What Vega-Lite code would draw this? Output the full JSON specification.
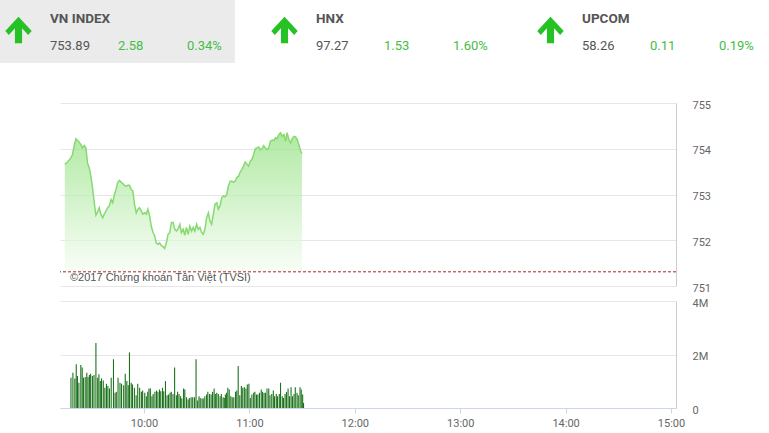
{
  "$schema": "https://vega.github.io/schema/vega-lite/v6.json",
  "padding": 0,
  "background": "white",
  "config": {
    "view": {"stroke": null},
    "font": "Roboto",
    "axis": {"labelFont": "Roboto", "labelFontSize": 11, "labelColor": "#666666"}
  },
  "datasets": {
    "indices": [
      {"index": "VN INDEX", "col": 0, "last": 753.89, "chg": 2.58, "pct": 0.0034},
      {"index": "HNX", "col": 1, "last": 97.27, "chg": 1.53, "pct": 0.016},
      {"index": "UPCOM", "col": 2, "last": 58.26, "chg": 0.11, "pct": 0.0019}
    ],
    "prevClose": [{"p": 751.31}],
    "credit": [{"t": 560.6, "p": 751.17, "label": "©2017 Chứng khoán Tân Việt (TVSI)"}],
    "price": [
      {"t": 557.7, "p": 753.66}, {"t": 559.2, "p": 753.71}, {"t": 561.1, "p": 753.80}, {"t": 562.0, "p": 753.87},
      {"t": 562.9, "p": 754.06}, {"t": 563.9, "p": 754.22}, {"t": 565.4, "p": 754.16}, {"t": 566.7, "p": 754.09},
      {"t": 567.6, "p": 754.02}, {"t": 568.6, "p": 754.07}, {"t": 569.5, "p": 754.02}, {"t": 570.4, "p": 753.69},
      {"t": 571.4, "p": 753.58}, {"t": 572.3, "p": 753.40}, {"t": 573.2, "p": 753.15}, {"t": 574.2, "p": 752.82},
      {"t": 575.1, "p": 752.55}, {"t": 576.1, "p": 752.62}, {"t": 577.0, "p": 752.71}, {"t": 577.9, "p": 752.57},
      {"t": 578.9, "p": 752.49}, {"t": 579.8, "p": 752.57}, {"t": 580.8, "p": 752.64}, {"t": 581.7, "p": 752.71},
      {"t": 582.6, "p": 752.75}, {"t": 583.6, "p": 752.89}, {"t": 584.5, "p": 752.82}, {"t": 585.5, "p": 753.00},
      {"t": 586.4, "p": 753.11}, {"t": 587.3, "p": 753.26}, {"t": 588.3, "p": 753.31}, {"t": 589.2, "p": 753.27},
      {"t": 590.2, "p": 753.24}, {"t": 591.1, "p": 753.20}, {"t": 592.0, "p": 753.18}, {"t": 593.0, "p": 753.20},
      {"t": 593.9, "p": 753.20}, {"t": 594.9, "p": 753.11}, {"t": 595.8, "p": 753.08}, {"t": 596.7, "p": 752.79},
      {"t": 597.7, "p": 752.60}, {"t": 598.6, "p": 752.68}, {"t": 599.5, "p": 752.71}, {"t": 600.5, "p": 752.64},
      {"t": 601.4, "p": 752.57}, {"t": 602.4, "p": 752.60}, {"t": 603.3, "p": 752.57}, {"t": 604.2, "p": 752.68},
      {"t": 605.2, "p": 752.53}, {"t": 606.1, "p": 752.31}, {"t": 607.1, "p": 752.17}, {"t": 608.0, "p": 752.10},
      {"t": 608.9, "p": 751.94}, {"t": 609.9, "p": 751.91}, {"t": 610.8, "p": 751.94}, {"t": 611.8, "p": 751.88},
      {"t": 612.7, "p": 751.86}, {"t": 613.6, "p": 751.82}, {"t": 614.6, "p": 751.95}, {"t": 615.5, "p": 752.13},
      {"t": 616.5, "p": 752.17}, {"t": 617.4, "p": 752.39}, {"t": 618.3, "p": 752.39}, {"t": 619.3, "p": 752.24},
      {"t": 620.2, "p": 752.20}, {"t": 621.2, "p": 752.25}, {"t": 622.1, "p": 752.35}, {"t": 623.0, "p": 752.17},
      {"t": 624.0, "p": 752.24}, {"t": 624.9, "p": 752.11}, {"t": 625.8, "p": 752.28}, {"t": 626.8, "p": 752.13},
      {"t": 627.7, "p": 752.31}, {"t": 628.7, "p": 752.20}, {"t": 629.6, "p": 752.28}, {"t": 630.5, "p": 752.20},
      {"t": 631.5, "p": 752.35}, {"t": 632.4, "p": 752.24}, {"t": 633.4, "p": 752.28}, {"t": 634.3, "p": 752.17},
      {"t": 635.2, "p": 752.13}, {"t": 636.2, "p": 752.24}, {"t": 637.1, "p": 752.49}, {"t": 638.1, "p": 752.60},
      {"t": 639.0, "p": 752.42}, {"t": 639.9, "p": 752.35}, {"t": 640.9, "p": 752.57}, {"t": 641.8, "p": 752.79},
      {"t": 642.8, "p": 752.82}, {"t": 643.7, "p": 752.68}, {"t": 644.6, "p": 752.75}, {"t": 645.6, "p": 752.93},
      {"t": 646.5, "p": 752.97}, {"t": 647.5, "p": 752.95}, {"t": 648.4, "p": 753.00}, {"t": 649.3, "p": 753.18},
      {"t": 650.3, "p": 753.29}, {"t": 651.2, "p": 753.29}, {"t": 652.2, "p": 753.27}, {"t": 653.1, "p": 753.29},
      {"t": 654.0, "p": 753.37}, {"t": 655.0, "p": 753.40}, {"t": 655.9, "p": 753.49}, {"t": 656.9, "p": 753.55},
      {"t": 657.8, "p": 753.62}, {"t": 658.7, "p": 753.71}, {"t": 659.7, "p": 753.66}, {"t": 660.6, "p": 753.62},
      {"t": 661.6, "p": 753.73}, {"t": 662.5, "p": 753.77}, {"t": 663.4, "p": 753.87}, {"t": 664.4, "p": 754.00},
      {"t": 665.3, "p": 754.02}, {"t": 666.3, "p": 754.04}, {"t": 667.2, "p": 753.98}, {"t": 668.1, "p": 754.00},
      {"t": 669.1, "p": 754.07}, {"t": 670.0, "p": 754.02}, {"t": 671.0, "p": 753.98}, {"t": 671.9, "p": 754.02},
      {"t": 672.8, "p": 754.16}, {"t": 673.8, "p": 754.19}, {"t": 674.7, "p": 754.18}, {"t": 675.7, "p": 754.24},
      {"t": 676.6, "p": 754.22}, {"t": 677.5, "p": 754.31}, {"t": 678.5, "p": 754.35}, {"t": 679.4, "p": 754.27},
      {"t": 680.4, "p": 754.31}, {"t": 681.3, "p": 754.16}, {"t": 682.2, "p": 754.35}, {"t": 683.2, "p": 754.20},
      {"t": 684.1, "p": 754.13}, {"t": 685.1, "p": 754.22}, {"t": 686.0, "p": 754.27}, {"t": 686.9, "p": 754.26},
      {"t": 687.9, "p": 754.20}, {"t": 688.8, "p": 754.09}, {"t": 689.8, "p": 753.95}, {"t": 690.5, "p": 753.89}
    ],
    "volume": [
      {"t": 558.4, "vol": 1132000}, {"t": 559.5, "vol": 1321000}, {"t": 560.6, "vol": 1107000}, {"t": 561.4, "vol": 1635000},
      {"t": 562.1, "vol": 1195000}, {"t": 562.9, "vol": 944000}, {"t": 564.0, "vol": 1610000}, {"t": 564.8, "vol": 1510000},
      {"t": 565.5, "vol": 1132000}, {"t": 566.5, "vol": 1157000}, {"t": 567.4, "vol": 1321000}, {"t": 568.1, "vol": 1157000},
      {"t": 568.9, "vol": 1233000}, {"t": 569.6, "vol": 1283000}, {"t": 570.6, "vol": 1195000}, {"t": 571.5, "vol": 1233000},
      {"t": 572.6, "vol": 2428000}, {"t": 573.6, "vol": 1132000}, {"t": 574.3, "vol": 1258000}, {"t": 575.1, "vol": 1006000},
      {"t": 575.8, "vol": 1107000}, {"t": 576.8, "vol": 1032000}, {"t": 577.7, "vol": 755000}, {"t": 578.6, "vol": 906000},
      {"t": 579.4, "vol": 818000}, {"t": 580.3, "vol": 730000}, {"t": 581.3, "vol": 1132000}, {"t": 582.6, "vol": 1824000},
      {"t": 583.5, "vol": 566000}, {"t": 584.2, "vol": 604000}, {"t": 585.2, "vol": 1132000}, {"t": 586.3, "vol": 944000},
      {"t": 587.2, "vol": 906000}, {"t": 588.4, "vol": 855000}, {"t": 589.3, "vol": 1283000}, {"t": 590.2, "vol": 1006000},
      {"t": 591.0, "vol": 855000}, {"t": 591.7, "vol": 2076000}, {"t": 592.7, "vol": 944000}, {"t": 593.4, "vol": 881000},
      {"t": 594.5, "vol": 755000}, {"t": 595.5, "vol": 478000}, {"t": 596.4, "vol": 906000}, {"t": 597.5, "vol": 755000},
      {"t": 598.5, "vol": 604000}, {"t": 599.2, "vol": 654000}, {"t": 600.4, "vol": 566000}, {"t": 601.3, "vol": 440000},
      {"t": 602.1, "vol": 604000}, {"t": 602.8, "vol": 730000}, {"t": 603.6, "vol": 730000}, {"t": 604.5, "vol": 440000},
      {"t": 605.2, "vol": 528000}, {"t": 606.2, "vol": 604000}, {"t": 607.1, "vol": 654000}, {"t": 607.9, "vol": 604000},
      {"t": 608.8, "vol": 692000}, {"t": 609.5, "vol": 629000}, {"t": 610.5, "vol": 755000}, {"t": 611.2, "vol": 629000},
      {"t": 612.2, "vol": 1006000}, {"t": 613.1, "vol": 478000}, {"t": 613.9, "vol": 503000}, {"t": 614.8, "vol": 566000},
      {"t": 615.5, "vol": 604000}, {"t": 616.5, "vol": 528000}, {"t": 617.4, "vol": 1510000}, {"t": 618.4, "vol": 478000},
      {"t": 619.1, "vol": 604000}, {"t": 619.9, "vol": 528000}, {"t": 620.8, "vol": 440000}, {"t": 621.5, "vol": 352000},
      {"t": 622.5, "vol": 730000}, {"t": 623.2, "vol": 692000}, {"t": 624.2, "vol": 403000}, {"t": 625.1, "vol": 315000},
      {"t": 625.8, "vol": 377000}, {"t": 626.8, "vol": 403000}, {"t": 627.7, "vol": 403000}, {"t": 628.7, "vol": 403000},
      {"t": 629.6, "vol": 1824000}, {"t": 630.5, "vol": 277000}, {"t": 631.3, "vol": 440000}, {"t": 632.0, "vol": 377000},
      {"t": 633.0, "vol": 352000}, {"t": 633.7, "vol": 352000}, {"t": 634.6, "vol": 440000}, {"t": 635.6, "vol": 503000},
      {"t": 636.3, "vol": 604000}, {"t": 637.3, "vol": 528000}, {"t": 638.2, "vol": 503000}, {"t": 639.0, "vol": 604000},
      {"t": 639.9, "vol": 730000}, {"t": 640.6, "vol": 528000}, {"t": 641.4, "vol": 566000}, {"t": 642.3, "vol": 528000},
      {"t": 643.3, "vol": 440000}, {"t": 644.0, "vol": 528000}, {"t": 645.0, "vol": 403000}, {"t": 645.7, "vol": 377000},
      {"t": 646.3, "vol": 503000}, {"t": 647.0, "vol": 566000}, {"t": 647.7, "vol": 755000}, {"t": 648.5, "vol": 692000},
      {"t": 649.4, "vol": 440000}, {"t": 650.2, "vol": 403000}, {"t": 651.1, "vol": 403000}, {"t": 652.1, "vol": 604000},
      {"t": 652.8, "vol": 654000}, {"t": 653.6, "vol": 1573000}, {"t": 654.5, "vol": 478000}, {"t": 655.4, "vol": 818000},
      {"t": 656.2, "vol": 755000}, {"t": 657.1, "vol": 780000}, {"t": 658.0, "vol": 730000}, {"t": 658.8, "vol": 881000},
      {"t": 659.7, "vol": 906000}, {"t": 660.5, "vol": 377000}, {"t": 661.4, "vol": 503000}, {"t": 662.4, "vol": 566000},
      {"t": 663.1, "vol": 604000}, {"t": 664.0, "vol": 503000}, {"t": 664.8, "vol": 503000}, {"t": 665.7, "vol": 566000},
      {"t": 666.7, "vol": 692000}, {"t": 667.4, "vol": 604000}, {"t": 668.3, "vol": 566000}, {"t": 669.1, "vol": 566000},
      {"t": 670.0, "vol": 730000}, {"t": 671.0, "vol": 730000}, {"t": 671.7, "vol": 478000}, {"t": 672.7, "vol": 528000},
      {"t": 673.6, "vol": 654000}, {"t": 674.3, "vol": 440000}, {"t": 675.3, "vol": 528000}, {"t": 676.0, "vol": 440000},
      {"t": 677.0, "vol": 528000}, {"t": 677.7, "vol": 944000}, {"t": 678.7, "vol": 440000}, {"t": 679.4, "vol": 377000},
      {"t": 680.3, "vol": 528000}, {"t": 681.1, "vol": 604000}, {"t": 682.0, "vol": 730000}, {"t": 682.8, "vol": 440000},
      {"t": 683.7, "vol": 780000}, {"t": 684.5, "vol": 440000}, {"t": 685.4, "vol": 528000}, {"t": 686.1, "vol": 780000},
      {"t": 687.1, "vol": 566000}, {"t": 687.8, "vol": 478000}, {"t": 688.8, "vol": 780000}, {"t": 689.5, "vol": 692000},
      {"t": 690.3, "vol": 503000}, {"t": 690.8, "vol": 189000}
    ]
  },
  "vconcat": [
    {
      "width": 769,
      "height": 63,
      "data": {"name": "indices"},
      "encoding": {
        "x": {"field": "col", "type": "quantitative", "scale": {"domain": [0, 2.891], "nice": false, "zero": false}, "axis": null}
      },
      "layer": [
        {
          "transform": [{"filter": "datum.col == 0"}],
          "mark": {"type": "rect", "color": "#ebebeb"},
          "encoding": {"x2": {"datum": 0.883}, "y": {"value": 0}, "y2": {"value": 63}}
        },
        {
          "mark": {"type": "point", "shape": "M0,-1L1,0.08L0.73,0.37L0.27,-0.13L0.27,1L-0.27,1L-0.27,-0.13L-0.73,0.37L-1,0.08Z", "size": 700, "filled": true, "opacity": 1, "color": "#25c125", "xOffset": 18.5},
          "encoding": {"y": {"value": 30}}
        },
        {
          "mark": {"type": "text", "align": "left", "baseline": "middle", "xOffset": 50, "font": "Roboto", "fontSize": 13.5, "fontWeight": "bold", "color": "#555555"},
          "encoding": {"y": {"value": 19}, "text": {"field": "index"}}
        },
        {
          "mark": {"type": "text", "align": "left", "baseline": "middle", "xOffset": 50, "font": "Roboto", "fontSize": 13, "color": "#555555"},
          "encoding": {"y": {"value": 46}, "text": {"field": "last", "type": "quantitative", "format": ".2f"}}
        },
        {
          "mark": {"type": "text", "align": "left", "baseline": "middle", "xOffset": 118, "font": "Roboto", "fontSize": 13, "color": "#45bd45"},
          "encoding": {"y": {"value": 46}, "text": {"field": "chg", "type": "quantitative", "format": ".2f"}}
        },
        {
          "mark": {"type": "text", "align": "left", "baseline": "middle", "xOffset": 187, "font": "Roboto", "fontSize": 13, "color": "#45bd45"},
          "encoding": {"y": {"value": 46}, "text": {"field": "pct", "type": "quantitative", "format": ".2%"}}
        }
      ]
    },
    {
      "hconcat": [
        {
          "width": 60,
          "height": 1,
          "data": {"values": []},
          "mark": {"type": "point", "opacity": 0}
        },
        {
          "vconcat": [
            {
              "width": 616,
              "height": 183,
              "layer": [
                {
                  "data": {"name": "price"},
                  "mark": {
                    "type": "area",
                    "color": {"gradient": "linear", "x1": 0, "y1": 0, "x2": 0, "y2": 1, "stops": [{"offset": 0, "color": "#8fe07c"}, {"offset": 1, "color": "#f6fdf4"}]},
                    "line": {"color": "#86da70", "strokeWidth": 1.5}
                  },
                  "encoding": {
                    "x": {"field": "t", "type": "quantitative", "scale": {"domain": [555, 900], "nice": false, "zero": false}, "axis": null},
                    "y": {
                      "field": "p", "type": "quantitative",
                      "scale": {"domain": [751, 755], "nice": false, "zero": false},
                      "axis": {"orient": "right", "values": [751, 752, 753, 754, 755], "grid": true, "gridColor": "#e6e6e6", "domainColor": "#cccccc", "ticks": false, "labelPadding": 16, "labelOffset": 2, "labelFlush": false, "title": null}
                    },
                    "y2": {"datum": 751.31}
                  }
                },
                {
                  "data": {"name": "prevClose"},
                  "mark": {"type": "rule", "color": "#a52a2a", "strokeDash": [3, 2], "strokeWidth": 1},
                  "encoding": {"y": {"field": "p", "type": "quantitative"}}
                },
                {
                  "data": {"name": "credit"},
                  "mark": {"type": "text", "align": "left", "baseline": "middle", "font": "Liberation Sans", "fontSize": 11, "color": "#555555"},
                  "encoding": {
                    "x": {"field": "t", "type": "quantitative"},
                    "y": {"field": "p", "type": "quantitative"},
                    "text": {"field": "label"}
                  }
                }
              ]
            },
            {
              "width": 616,
              "height": 107,
              "data": {"name": "volume"},
              "mark": {"type": "bar", "color": "#1d731d", "width": 1.1},
              "encoding": {
                "x": {
                  "field": "t", "type": "quantitative",
                  "scale": {"domain": [555, 900], "nice": false, "zero": false},
                  "axis": {"values": [600, 660, 720, 780, 840, 900], "labelExpr": "floor(datum.value / 60) + ':' + (datum.value % 60 < 10 ? '0' : '') + (datum.value % 60)", "labelFlush": false, "labelBound": false, "grid": false, "domainColor": "#ccd6eb", "tickColor": "#ccd6eb", "tickSize": 5, "labelPadding": 4, "title": null}
                },
                "y": {
                  "field": "vol", "type": "quantitative",
                  "scale": {"domain": [0, 4000000], "nice": false},
                  "axis": {"orient": "right", "values": [0, 2000000, 4000000], "labelExpr": "datum.value == 0 ? '0' : (datum.value / 1000000) + 'M'", "grid": true, "gridColor": "#e6e6e6", "domainColor": "#cccccc", "ticks": false, "labelPadding": 16, "labelOffset": 2, "labelFlush": false, "title": null}
                }
              }
            }
          ],
          "spacing": 15,
          "bounds": "flush"
        }
      ],
      "spacing": 0,
      "bounds": "flush"
    }
  ],
  "spacing": 40,
  "bounds": "flush"
}
